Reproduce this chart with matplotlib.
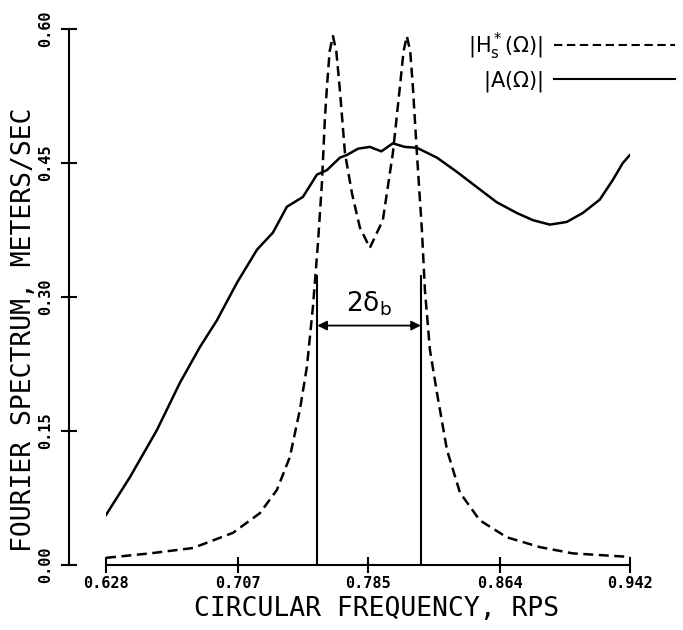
import matplotlib
matplotlib.use('Agg')
import matplotlib.pyplot as plt
from matplotlib.lines import Line2D

# |A(Omega)| - solid curve
a_freq = [0.628, 0.6424, 0.6585, 0.6723, 0.6843, 0.6945, 0.7065, 0.7185, 0.7280, 0.7364,
          0.7460, 0.7544, 0.7604, 0.7682, 0.7724, 0.7790, 0.7861, 0.7930, 0.7999, 0.8070,
          0.8143, 0.8263, 0.8383, 0.8502, 0.8622, 0.8742, 0.8838, 0.8940, 0.9041, 0.9137,
          0.9239, 0.9317, 0.9377, 0.942]
a_amp = [0.056, 0.0985, 0.151, 0.204, 0.244, 0.274, 0.316, 0.353, 0.372, 0.401,
         0.412, 0.437, 0.442, 0.456, 0.459, 0.466, 0.468, 0.463, 0.472, 0.468,
         0.467, 0.456, 0.440, 0.423, 0.406, 0.394, 0.386, 0.381, 0.384, 0.394,
         0.409, 0.431, 0.450, 0.459]

# |Hs*(Omega)| - dashed curve
h_freq = [0.628, 0.6544, 0.6801, 0.7041, 0.7202, 0.7304, 0.7382, 0.7442, 0.7484, 0.7520,
          0.7550, 0.7574, 0.7592, 0.7604, 0.7620, 0.7640, 0.7660, 0.7680, 0.7712, 0.7754,
          0.7801, 0.7861, 0.7939, 0.7999, 0.8041, 0.8063, 0.8083, 0.8103, 0.8119, 0.8143,
          0.8173, 0.8191, 0.8221, 0.8263, 0.8323, 0.8401, 0.8520, 0.8682, 0.8880, 0.9077,
          0.942]
h_amp = [0.008, 0.013, 0.019, 0.036, 0.058, 0.084, 0.121, 0.174, 0.222, 0.289,
         0.360, 0.428, 0.501, 0.535, 0.575, 0.592, 0.575, 0.535, 0.461, 0.416,
         0.378, 0.355, 0.386, 0.461, 0.535, 0.575, 0.592, 0.575, 0.535, 0.461,
         0.375, 0.308, 0.241, 0.193, 0.129, 0.081, 0.050, 0.031, 0.020, 0.013,
         0.009]

# half-power band 2*delta_b
band_lo, band_hi = 0.7546, 0.8167
band_top = 0.325
arrow_y = 0.268

x_ticks = [0.628, 0.707, 0.785, 0.864, 0.942]
x_labels = ['0.628', '0.707', '0.785', '0.864', '0.942']
y_ticks = [0.00, 0.15, 0.30, 0.45, 0.60]
y_labels = ['0.00', '0.15', '0.30', '0.45', '0.60']

mono = 'DejaVu Sans Mono'
plt.rcParams['mathtext.fontset'] = 'dejavusans'

fig = plt.figure(figsize=(6.83, 6.30), dpi=100)
ax = fig.add_axes([0.1552, 0.1032, 0.7672, 0.8508])

# spines first: moving a spine resets the tick formatting
for s in ['top', 'right']:
    ax.spines[s].set_visible(False)
ax.spines['left'].set_position(('outward', 27))
ax.spines['left'].set_linewidth(1.5)
ax.spines['bottom'].set_linewidth(1.5)

ax.plot(a_freq, a_amp, color='black', lw=1.8, solid_joinstyle='round')
ax.plot(h_freq, h_amp, color='black', lw=1.8, linestyle=(0, (4, 2.2)))

ax.vlines([band_lo, band_hi], 0, band_top, color='black', lw=1.5)
ax.annotate('', xy=(band_lo, arrow_y), xytext=(band_hi, arrow_y),
            arrowprops=dict(arrowstyle='<|-|>', color='black', lw=1.3,
                            shrinkA=0, shrinkB=0, mutation_scale=14))
ax.text((band_lo + band_hi) / 2, arrow_y + 0.008, r'2δ$_\mathregular{b}$', ha='center',
        va='bottom', fontsize=19)

ax.set_xlim(0.628, 0.942)
ax.set_ylim(0.0, 0.60)
ax.set_xticks(x_ticks)
ax.set_xticklabels(x_labels, fontfamily=mono, fontsize=11, fontweight='bold')
ax.set_yticks(y_ticks)
ax.set_yticklabels(y_labels, fontfamily=mono, fontsize=11, fontweight='bold',
                   rotation=90, va='center')
ax.tick_params(direction='inout', length=12, width=1.5)
ax.tick_params(axis='x', pad=2)
ax.tick_params(axis='y', pad=5)

ax.set_xlabel('CIRCULAR FREQUENCY, RPS', fontfamily=mono, fontsize=19)
ax.xaxis.set_label_coords(0.517, -0.058)
ax.set_ylabel('FOURIER SPECTRUM, METERS/SEC', fontfamily=mono, fontsize=19)
ax.yaxis.set_label_coords(-0.131, 0.438)

handles = [Line2D([], [], color='black', lw=1.5, linestyle=(0, (4, 2.2))),
           Line2D([], [], color='black', lw=1.5)]
labels = [r'$|\mathregular{H_s^*(\Omega)}|$', r'$|\mathregular{A(\Omega)}|$']
fig.legend(handles, labels, loc='upper right', bbox_to_anchor=(1.0, 0.965),
           markerfirst=False, frameon=False, fontsize=15, handlelength=5.8,
           handletextpad=0.5, labelspacing=0.35, borderaxespad=0.0)

fig.savefig('out.png', dpi=100)
